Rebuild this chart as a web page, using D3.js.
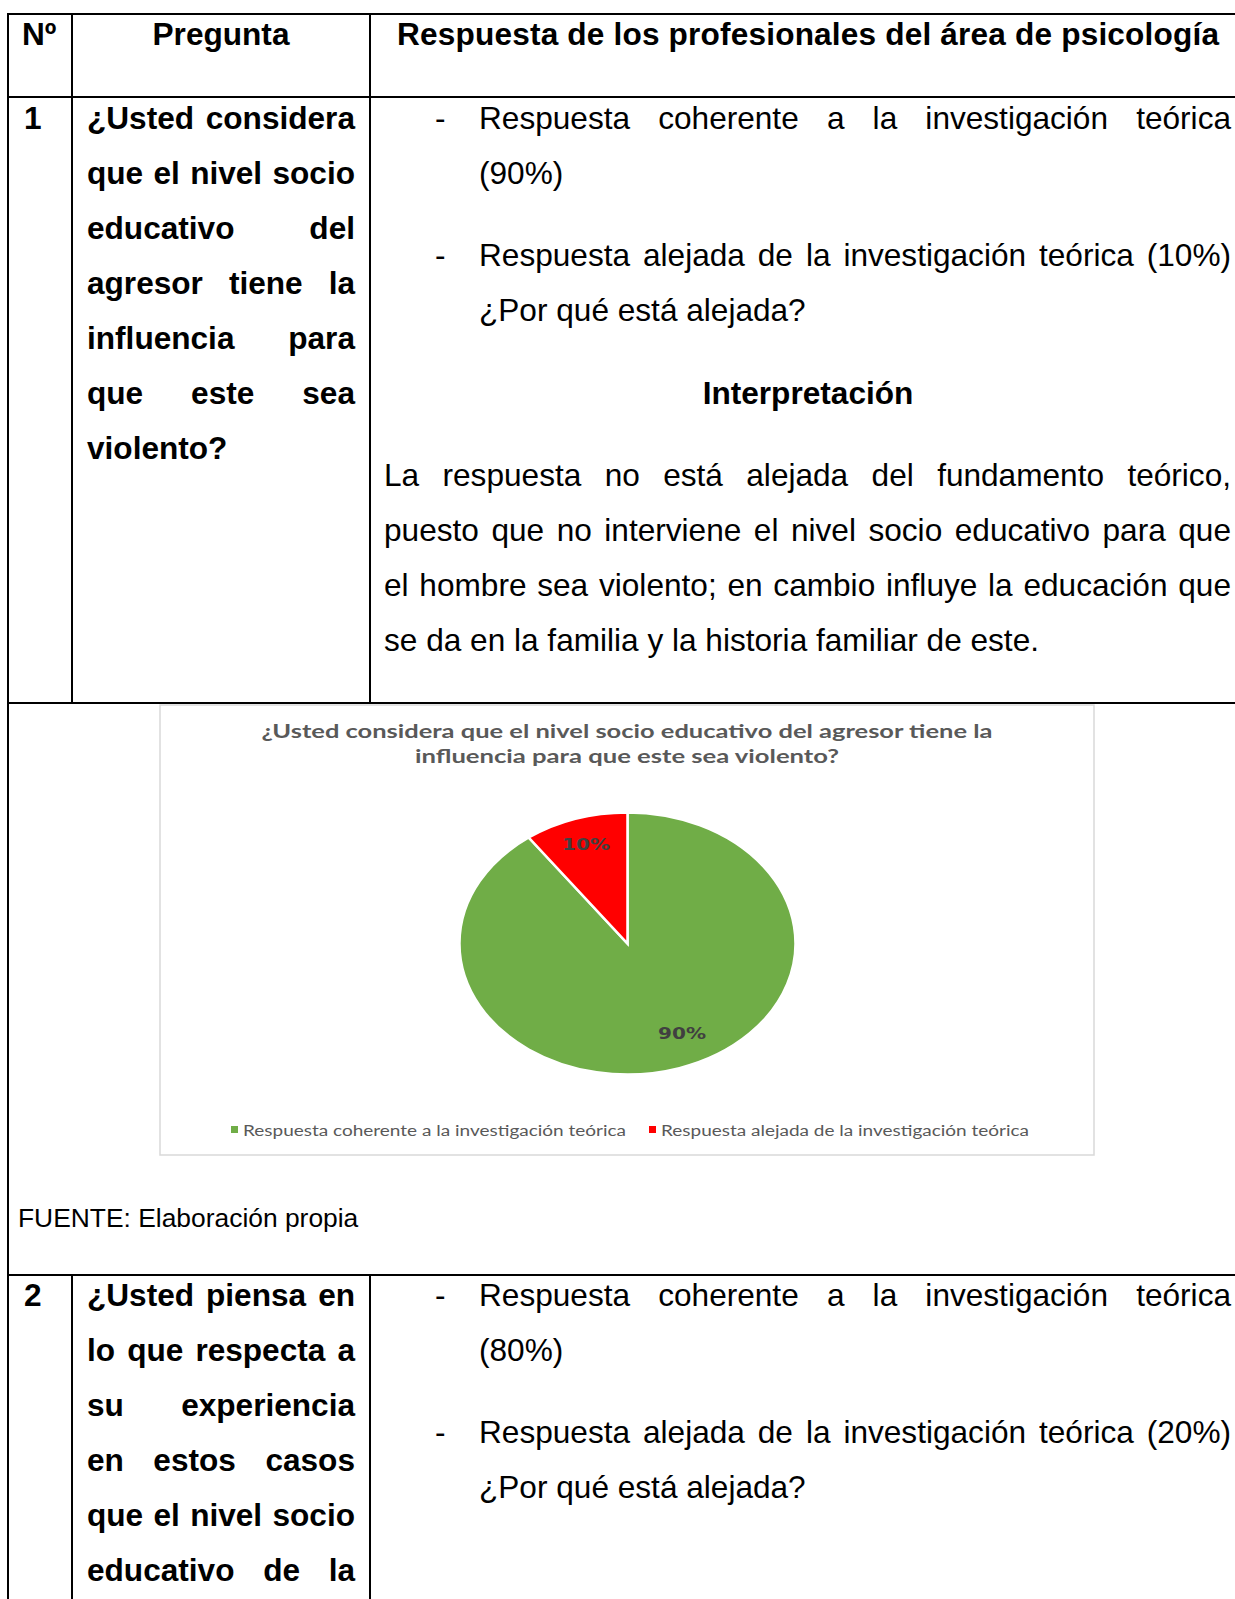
<!DOCTYPE html>
<html><head><meta charset="utf-8">
<script src="https://cdn.jsdelivr.net/npm/d3@7"></script>
<style>body{margin:0;background:#fff}svg{display:block}</style>
</head><body>
<script>
// ---------- DATA ----------
const categories = ["Respuesta coherente a la investigación teórica", "Respuesta alejada de la investigación teórica"];
const values = [90, 10];
const sliceColors = ["#70AD47", "#FF0000"];
const chartTitle = ["¿Usted considera que el nivel socio educativo del agresor tiene la", "influencia para que este sea violento?"];
const headers = ["Nº", "Pregunta", "Respuesta de los profesionales del área de psicología"];
const rowNumbers = ["1", "2"];
const q1Lines = ["¿Usted considera", "que el nivel socio", "educativo del", "agresor tiene la", "influencia para", "que este sea", "violento?"];
const q2Lines = ["¿Usted piensa en", "lo que respecta a", "su experiencia", "en estos casos", "que el nivel socio", "educativo de la"];
const r1Bullets = [
  ["Respuesta coherente a la investigación teórica", "(90%)"],
  ["Respuesta alejada de la investigación teórica (10%)", "¿Por qué está alejada?"]
];
const r2Bullets = [
  ["Respuesta coherente a la investigación teórica", "(80%)"],
  ["Respuesta alejada de la investigación teórica (20%)", "¿Por qué está alejada?"]
];
const interpTitle = "Interpretación";
const interpLines = [
  "La respuesta no está alejada del fundamento teórico,",
  "puesto que no interviene el nivel socio educativo para que",
  "el hombre sea violento; en cambio influye la educación que",
  "se da en la familia y la historia familiar de este."
];
const sourceText = "FUENTE: Elaboración propia";

// ---------- DRAW ----------
const W = 1235, H = 1599;
const svg = d3.select("body").append("svg").attr("width", W).attr("height", H);
const FONT = "'Liberation Sans', Arial, sans-serif";
const FS = 31.6;
const LH = 55.07;

const txt = svg.append("g").attr("font-family", FONT).attr("font-size", FS).attr("fill", "#000");

function plain(g, s, x, y, bold, anchor) {
  return g.append("text").attr("x", x).attr("y", y)
    .attr("font-weight", bold ? "bold" : null)
    .attr("text-anchor", anchor || "start").text(s);
}
function justify(g, s, x0, x1, y, bold) {
  const words = s.split(" ");
  const nodes = words.map(w => g.append("text").attr("y", y).attr("font-weight", bold ? "bold" : null).text(w));
  const widths = nodes.map(n => n.node().getComputedTextLength());
  const gap = words.length > 1 ? (x1 - x0 - d3.sum(widths)) / (words.length - 1) : 0;
  let x = x0;
  nodes.forEach((n, i) => { n.attr("x", x); x += widths[i] + gap; });
}
function paragraph(g, lines, x0, x1, y0, bold, lastJust) {
  lines.forEach((l, i) => {
    const y = y0 + i * LH;
    if (i < lines.length - 1 || lastJust) justify(g, l, x0, x1, y, bold);
    else plain(g, l, x0, y, bold);
  });
}

// table lines
const X0 = 8, C1 = 72, C2 = 370;
const Y_TOP = 14, Y_HEAD = 97, Y_R1 = 703, Y_R2 = 1275;
const lines = svg.append("g").attr("stroke", "#000").attr("stroke-width", 2);
lines.append("line").attr("x1", X0 - 1).attr("x2", W).attr("y1", Y_TOP).attr("y2", Y_TOP);
lines.append("line").attr("x1", X0).attr("x2", W).attr("y1", Y_HEAD).attr("y2", Y_HEAD);
lines.append("line").attr("x1", X0).attr("x2", W).attr("y1", Y_R1).attr("y2", Y_R1);
lines.append("line").attr("x1", X0).attr("x2", W).attr("y1", Y_R2).attr("y2", Y_R2);
lines.append("line").attr("x1", X0).attr("x2", X0).attr("y1", Y_TOP).attr("y2", H);
[C1, C2].forEach(c => {
  lines.append("line").attr("x1", c).attr("x2", c).attr("y1", Y_TOP).attr("y2", Y_R1);
  lines.append("line").attr("x1", c).attr("x2", c).attr("y1", Y_R2).attr("y2", H);
});

// header
const hb = 45;
plain(txt, headers[0], 22, hb, true);
plain(txt, headers[1], 221, hb, true, "middle");
plain(txt, headers[2], 397, hb, true).attr("textLength", 822).attr("lengthAdjust", "spacing");

// row 1
const b1 = 128.5;
plain(txt, rowNumbers[0], 24, b1, true);
paragraph(txt, q1Lines, 87, 355, b1, true, false);
const dashX = 435, bx0 = 479, bx1 = 1231;
function bullets(list, y0) {
  let y = y0;
  list.forEach(b => {
    plain(txt, "-", dashX, y, false);
    justify(txt, b[0], bx0, bx1, y, false);
    plain(txt, b[1], bx0, y + LH, false);
    y += LH * 2 + 27.6;
  });
}
bullets(r1Bullets, b1);
plain(txt, interpTitle, 808, 403.5, true, "middle");
paragraph(txt, interpLines, 384, 1231, 485.5, false, false);

// source
plain(txt, sourceText, 18, 1227, false).attr("font-size", 26.4);

// row 2
const b2 = 1305.5;
plain(txt, rowNumbers[1], 24, b2, true);
paragraph(txt, q2Lines, 87, 355, b2, true, true);
bullets(r2Bullets, b2);

// ---------- CHART ----------
const chart = svg.append("g");
chart.append("rect").attr("x", 160).attr("y", 705).attr("width", 934).attr("height", 450)
  .attr("fill", "#fff").attr("stroke", "#D9D9D9").attr("stroke-width", 1.5);

const CF = "Lato, 'Open Sans', sans-serif";
const titleG = chart.append("g").attr("font-family", CF).attr("font-weight", "bold")
  .attr("fill", "#595959").attr("font-size", 19).attr("text-anchor", "middle");
const titleW = [731, 424];
chartTitle.forEach((t, i) => {
  titleG.append("text").attr("x", 627).attr("y", 738 + i * 25).text(t)
    .attr("textLength", titleW[i]).attr("lengthAdjust", "spacingAndGlyphs");
});

const cx = 627.5, cy = 943.5, rx = 168, ry = 131;
const color = d3.scaleOrdinal().domain(categories).range(sliceColors);
const pieData = d3.pie().sort(null).value(d => d.v)(categories.map((c, i) => ({c, v: values[i]})));
const arc = d3.arc().innerRadius(0).outerRadius(1);
const pg = chart.append("g").attr("transform", `translate(${cx},${cy}) scale(${rx},${ry})`);
pg.selectAll("path").data(pieData).join("path")
  .attr("d", arc).attr("fill", d => color(d.data.c))
  .attr("stroke", "#fff").attr("stroke-width", 2.5).attr("vector-effect", "non-scaling-stroke");

// label placement (Excel "best fit" style nudges)
const labelArc = d3.arc().innerRadius(0.78).outerRadius(0.78);
const labelNudge = [[14, -8], [-1, -2]];
chart.append("g").attr("font-family", "'DejaVu Sans', sans-serif").attr("font-weight", "bold")
  .attr("font-size", 16.5).attr("fill", "#404040").attr("text-anchor", "middle")
  .selectAll("text").data(pieData).join("text")
  .attr("x", (d, i) => cx + labelArc.centroid(d)[0] * rx + labelNudge[i][0])
  .attr("y", (d, i) => cy + labelArc.centroid(d)[1] * ry + 6 + labelNudge[i][1])
  .attr("textLength", 48).attr("lengthAdjust", "spacingAndGlyphs")
  .text(d => d3.format(".0%")(d.data.v / 100));

// legend
const lg = chart.append("g").attr("font-family", CF).attr("font-size", 15.5).attr("fill", "#595959");
const legW = [383, 368];
const legX = [231, 649];
categories.forEach((c, i) => {
  lg.append("rect").attr("x", legX[i]).attr("y", 1126).attr("width", 7).attr("height", 7).attr("fill", color(c));
  lg.append("text").attr("x", legX[i] + 12).attr("y", 1135.5).text(c)
    .attr("textLength", legW[i]).attr("lengthAdjust", "spacingAndGlyphs");
});
</script>
</body></html>
